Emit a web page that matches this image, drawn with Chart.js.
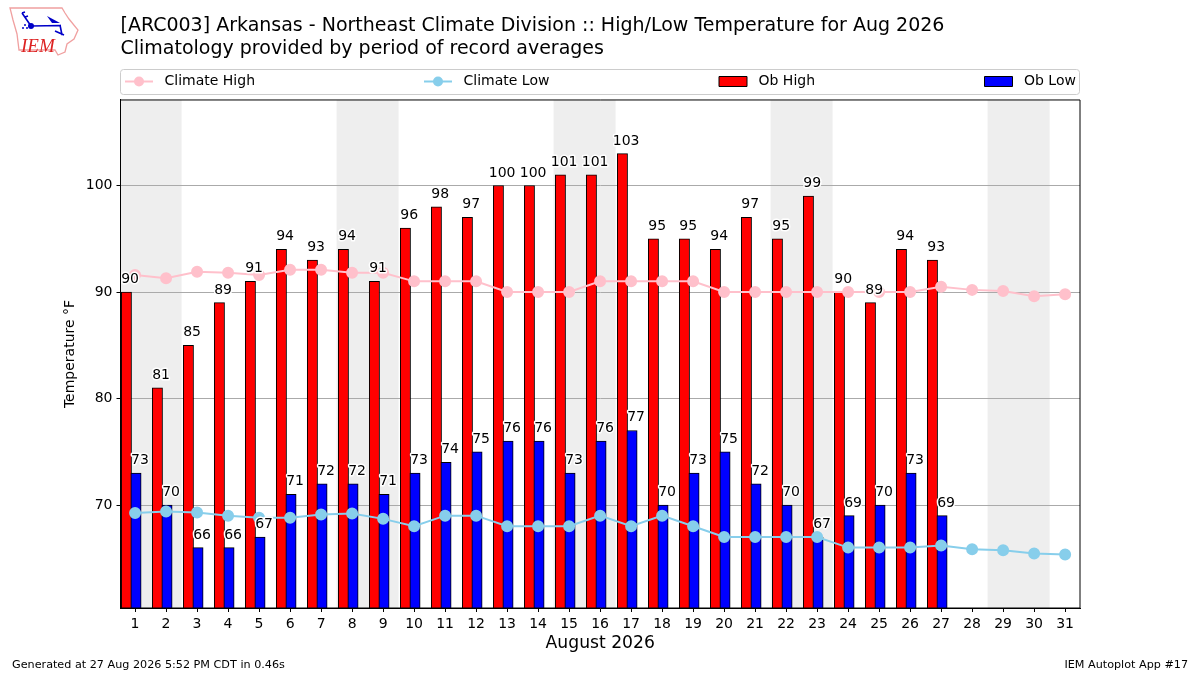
<!DOCTYPE html>
<html>
<head>
<meta charset="utf-8">
<script src="https://cdn.jsdelivr.net/npm/chart.js@4"></script>
<style>
html, body { margin: 0; padding: 0; background: #fff; }
#wrap { position: relative; width: 1200px; height: 675px; }
#logo { position: absolute; left: 5px; top: 3px; }
</style>
</head>
<body>
<div id="wrap">
<canvas id="chart" width="1200" height="675"></canvas>
<svg id="logo" width="80" height="58" viewBox="0 0 80 58">
  <path d="M5 5 L57 5 L60 10 L64 16 L73 27 L69 36 L62 41 L60 49 L53 52 L50 47 L14 47 L12 31 L8 17 Z" fill="#fff" stroke="#f0a0a0" stroke-width="1.3"/>
  <path d="M26 23 L56 22.5 M55 22 L57 32 M50 28 L59 32 M17 10 L26 23 M17 10 L20 9 M20 14 L23 13" stroke="#0000c8" stroke-width="1.6" fill="none"/>
  <path d="M42 13 L55 20 L47 20 Z" fill="#0000c8"/>
  <circle cx="26" cy="23" r="3" fill="#0000c8"/>
  <circle cx="20" cy="22" r="1" fill="#0000c8"/>
  <circle cx="18" cy="25" r="1" fill="#0000c8"/>
  <circle cx="22" cy="25" r="1" fill="#0000c8"/>
  <text x="16" y="48.5" font-family="Liberation Serif" font-style="italic" font-size="19" fill="#d22">IEM</text>
</svg>
</div>
<script>
// days of Aug 2026, observed through the 27th
const days = [1,2,3,4,5,6,7,8,9,10,11,12,13,14,15,16,17,18,19,20,21,22,23,24,25,26,27,28,29,30,31];
const obHigh = [90,81,85,89,91,94,93,94,91,96,98,97,100,100,101,101,103,95,95,94,97,95,99,90,89,94,93];
const obLow = [73,70,66,66,67,71,72,72,71,73,74,75,76,76,73,76,77,70,73,75,72,70,67,69,70,73,69];
const climateHigh = [91.6,91.3,91.9,91.8,91.6,92.1,92.1,91.8,91.8,91,91,91,90,90,90,91,91,91,91,90,90,90,90,90,90,90,90.5,90.2,90.1,89.6,89.8];
const climateLow = [69.25,69.4,69.3,69,68.8,68.8,69.1,69.2,68.7,68,69,69,68,68,68,69,68,69,68,67,67,67,67,66,66,66,66.2,65.85,65.75,65.45,65.35];
const weekends = [[0.5,2.5],[7.5,9.5],[14.5,16.5],[21.5,23.5],[28.5,30.5]];
const yTicks = [70,80,90,100];

const titleLines = [
    '[ARC003] Arkansas - Northeast Climate Division :: High/Low Temperature for Aug 2026',
    'Climatology provided by period of record averages'
];
const fontName = '"DejaVu Sans"';

function pts(values, shift) {
    return values.map((v, i) => ({ x: days[i] + shift, y: v }));
}

// grey weekend bands go in under the grid
const bands = {
    id: 'bands',
    beforeDraw(chart) {
        const { ctx, chartArea: a, scales: { x } } = chart;
        ctx.save();
        ctx.fillStyle = '#eeeeee';
        weekends.forEach(w => {
            const l = Math.max(x.getPixelForValue(w[0]), a.left);
            ctx.fillRect(l, a.top, x.getPixelForValue(w[1]) - l, a.bottom - a.top);
        });
        ctx.restore();
    }
};

// value labels with a white halo, frame, legend row, footers
const extras = {
    id: 'extras',
    afterDraw(chart) {
        const { ctx, chartArea: a, scales: { x, y } } = chart;
        ctx.save();
        ctx.font = '14px ' + fontName;
        ctx.textAlign = 'center';
        ctx.textBaseline = 'alphabetic';
        ctx.lineJoin = 'round';
        const label = (v, i, shift) => {
            const px = x.getPixelForValue(days[i] + shift), py = y.getPixelForValue(v) - 9;
            ctx.lineWidth = 3;
            ctx.strokeStyle = '#fff';
            ctx.strokeText(v, px, py);
            ctx.fillStyle = '#000';
            ctx.fillText(v, px, py);
        };
        obHigh.forEach((v, i) => label(v, i, -0.16));
        obLow.forEach((v, i) => label(v, i, 0.16));

        ctx.strokeStyle = '#000';
        ctx.lineWidth = 1;
        ctx.strokeRect(a.left, a.top, a.right - a.left, a.bottom - a.top);

        // legend box
        ctx.strokeStyle = '#cccccc';
        ctx.beginPath();
        ctx.roundRect(120.5, 69.5, 959, 25, 3);
        ctx.stroke();
        ctx.textAlign = 'left';
        ctx.textBaseline = 'middle';
        const slots = [125, 424, 719, 984.5];
        [0, 1, 2, 3].forEach(i => {
            const ds = chart.data.datasets[i], sx = slots[i], sy = 81.5;
            if (ds.type === 'line') {
                ctx.strokeStyle = ds.borderColor;
                ctx.lineWidth = 2;
                ctx.beginPath(); ctx.moveTo(sx, sy); ctx.lineTo(sx + 28, sy); ctx.stroke();
                ctx.fillStyle = ds.borderColor;
                ctx.beginPath(); ctx.arc(sx + 14, sy, 5, 0, Math.PI * 2); ctx.fill();
            } else {
                ctx.fillStyle = ds.backgroundColor;
                ctx.strokeStyle = '#000';
                ctx.lineWidth = 1;
                ctx.fillRect(sx, sy - 5, 28, 10);
                ctx.strokeRect(sx, sy - 5, 28, 10);
            }
            ctx.fillStyle = '#000';
            ctx.fillText(ds.label, sx + 39.5, sy);
        });

        ctx.font = '11.2px ' + fontName;
        ctx.fillStyle = '#000';
        ctx.fillText('Generated at 27 Aug 2026 5:52 PM CDT in 0.46s', 12, 665);
        ctx.textAlign = 'right';
        ctx.fillText('IEM Autoplot App #17', 1188, 665);
        ctx.restore();
    }
};

new Chart(document.getElementById('chart'), {
    data: {
        datasets: [
            { type: 'line', label: 'Climate High', data: pts(climateHigh, 0), borderColor: '#ffc0cb', backgroundColor: '#ffc0cb', borderWidth: 2, pointRadius: 5, order: 1 },
            { type: 'line', label: 'Climate Low', data: pts(climateLow, 0), borderColor: '#87ceeb', backgroundColor: '#87ceeb', borderWidth: 2, pointRadius: 5, order: 0 },
            { type: 'bar', label: 'Ob High', data: pts(obHigh, -0.28), backgroundColor: '#ff0000', borderColor: '#000', borderWidth: 1, barThickness: 10.3, grouped: false, order: 3 },
            { type: 'bar', label: 'Ob Low', data: pts(obLow, 0.03), backgroundColor: '#0000ff', borderColor: '#000', borderWidth: 1, barThickness: 10.3, grouped: false, order: 2 }
        ]
    },
    options: {
        responsive: false,
        animation: false,
        layout: { padding: { left: 0, right: 120, top: 0, bottom: 0 } },
        plugins: {
            legend: { display: false },
            tooltip: { enabled: false },
            title: {
                display: true,
                text: titleLines,
                align: 'start',
                fullSize: false,
                color: '#000',
                font: { family: fontName, size: 19, weight: 'normal', lineHeight: 1.21 },
                padding: { top: 15, bottom: 39 }
            }
        },
        scales: {
            x: {
                type: 'linear',
                min: 0.53,
                max: 31.48,
                offset: false,
                bounds: 'data',
                afterFit(s) { s.height = 67; },
                grid: { offset: false, drawOnChartArea: false, tickColor: '#000', tickLength: 4 },
                border: { color: '#000' },
                ticks: {
                    stepSize: 1,
                    autoSkip: false,
                    includeBounds: false,
                    maxRotation: 0,
                    color: '#000',
                    padding: 4,
                    font: { family: fontName, size: 14 },
                    callback: v => v
                },
                afterBuildTicks(s) { s.ticks = days.map(d => ({ value: d })); },
                title: { display: true, text: 'August 2026', color: '#000', font: { family: fontName, size: 17.2 }, padding: { top: 4, bottom: 21 } }
            },
            y: {
                min: 60.33,
                max: 108.03,
                afterFit(s) { s.width = 120.5; },
                grid: { color: '#aaaaaa', tickColor: '#000', tickLength: 4 },
                border: { color: '#000' },
                ticks: { color: '#000', padding: 4, includeBounds: false, font: { family: fontName, size: 14 } },
                afterBuildTicks(s) { s.ticks = yTicks.map(v => ({ value: v })); },
                title: { display: true, text: 'Temperature °F', color: '#000', font: { family: fontName, size: 14 }, padding: { top: 62 } }
            }
        }
    },
    plugins: [bands, extras]
});
</script>
</body>
</html>
